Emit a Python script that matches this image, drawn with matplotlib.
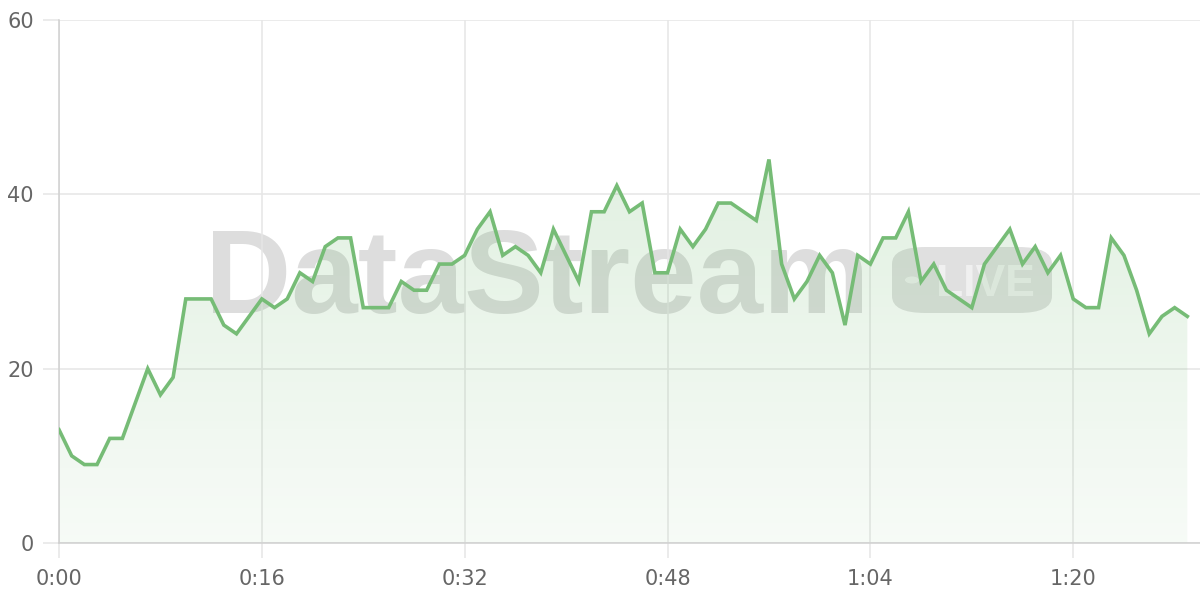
import numpy as np
import matplotlib.pyplot as plt
from matplotlib.patches import FancyBboxPatch, Circle

# viewers per minute
minutes = list(range(90))
viewers = [13, 10, 9, 9, 12, 12, 16, 20, 17, 19,
           28, 28, 28, 25, 24, 26, 28, 27, 28, 31,
           30, 34, 35, 35, 27, 27, 27, 30, 29, 29,
           32, 32, 33, 36, 38, 33, 34, 33, 31, 36,
           33, 30, 38, 38, 41, 38, 39, 31, 31, 36,
           34, 36, 39, 39, 38, 37, 44, 32, 28, 30,
           33, 31, 25, 33, 32, 35, 35, 38, 30, 32,
           29, 28, 27, 32, 34, 36, 32, 34, 31, 33,
           28, 27, 27, 35, 33, 29, 24, 26, 27, 26]
xticks = [0, 16, 32, 48, 64, 80]
xticklabels = ['0:00', '0:16', '0:32', '0:48', '1:04', '1:20']
yticks = [0, 20, 40, 60]

green = '#76bc76'
fig = plt.figure(figsize=(12, 6), dpi=100)
ax = fig.add_axes([59/1200, 57/600, 1 - 59/1200, 523/600])
ax.patch.set_alpha(0)

# watermark, behind the axes
fig.text(205/1200, (600-313)/600, 'DataStream', fontsize=86, fontweight='bold',
         family='Liberation Sans', color='#000000', alpha=0.135,
         ha='left', va='baseline', zorder=-2)
badge = FancyBboxPatch((892/1200, (600-313)/600), 160/1200, 66/600,
                       boxstyle='round,pad=0,rounding_size=0.028',
                       transform=fig.transFigure, fc='#000000', alpha=0.12,
                       ec='none', zorder=-2)
fig.patches.append(badge)
fig.text(1035/1200, (600-296)/600, 'LIVE', fontsize=32, fontweight='bold',
         family='Liberation Sans', color='white', alpha=0.55,
         ha='right', va='baseline', zorder=-1)
fig.patches.append(Circle((912/1200, (600-280)/600), 7/1200,
                          transform=fig.transFigure, fc='white', alpha=0.55,
                          ec='none', zorder=-1))

# gradient fill under line
x = np.array(minutes)
y = np.array(viewers)
poly = ax.fill_between(x, y, 0, color='none', lw=0)
grad = np.zeros((100, 1, 4))
grad[:, 0, 0] = 0x76/255
grad[:, 0, 1] = 0xbc/255
grad[:, 0, 2] = 0x76/255
grad[:, 0, 3] = np.linspace(0.22, 0.06, 100)
img = ax.imshow(grad, extent=[0, 89, 0, 45], aspect='auto', origin='upper', zorder=2)
img.set_clip_path(poly.get_paths()[0], transform=ax.transData)

ax.plot(x, y, color=green, lw=2.6, zorder=3, solid_joinstyle='miter')

ax.set_xlim(0, 90)
ax.set_ylim(0, 60)
ax.set_xticks(xticks)
ax.set_xticklabels(xticklabels)
ax.set_yticks(yticks)
ax.grid(True, color='#e6e6e6', lw=1.1)
ax.set_axisbelow(True)
for s in ['top', 'right']:
    ax.spines[s].set_visible(False)
for s in ['left', 'bottom']:
    ax.spines[s].set_color('#d0d0d0')
    ax.spines[s].set_linewidth(1.1)
ax.tick_params(axis='y', length=11.5, width=1.1, color='#e6e6e6', pad=6.5,
               labelsize=15, labelcolor='#666666')
ax.tick_params(axis='x', length=11, width=1.1, color='#e6e6e6', pad=8,
               labelsize=15, labelcolor='#666666')

fig.savefig('out.png', dpi=100)
